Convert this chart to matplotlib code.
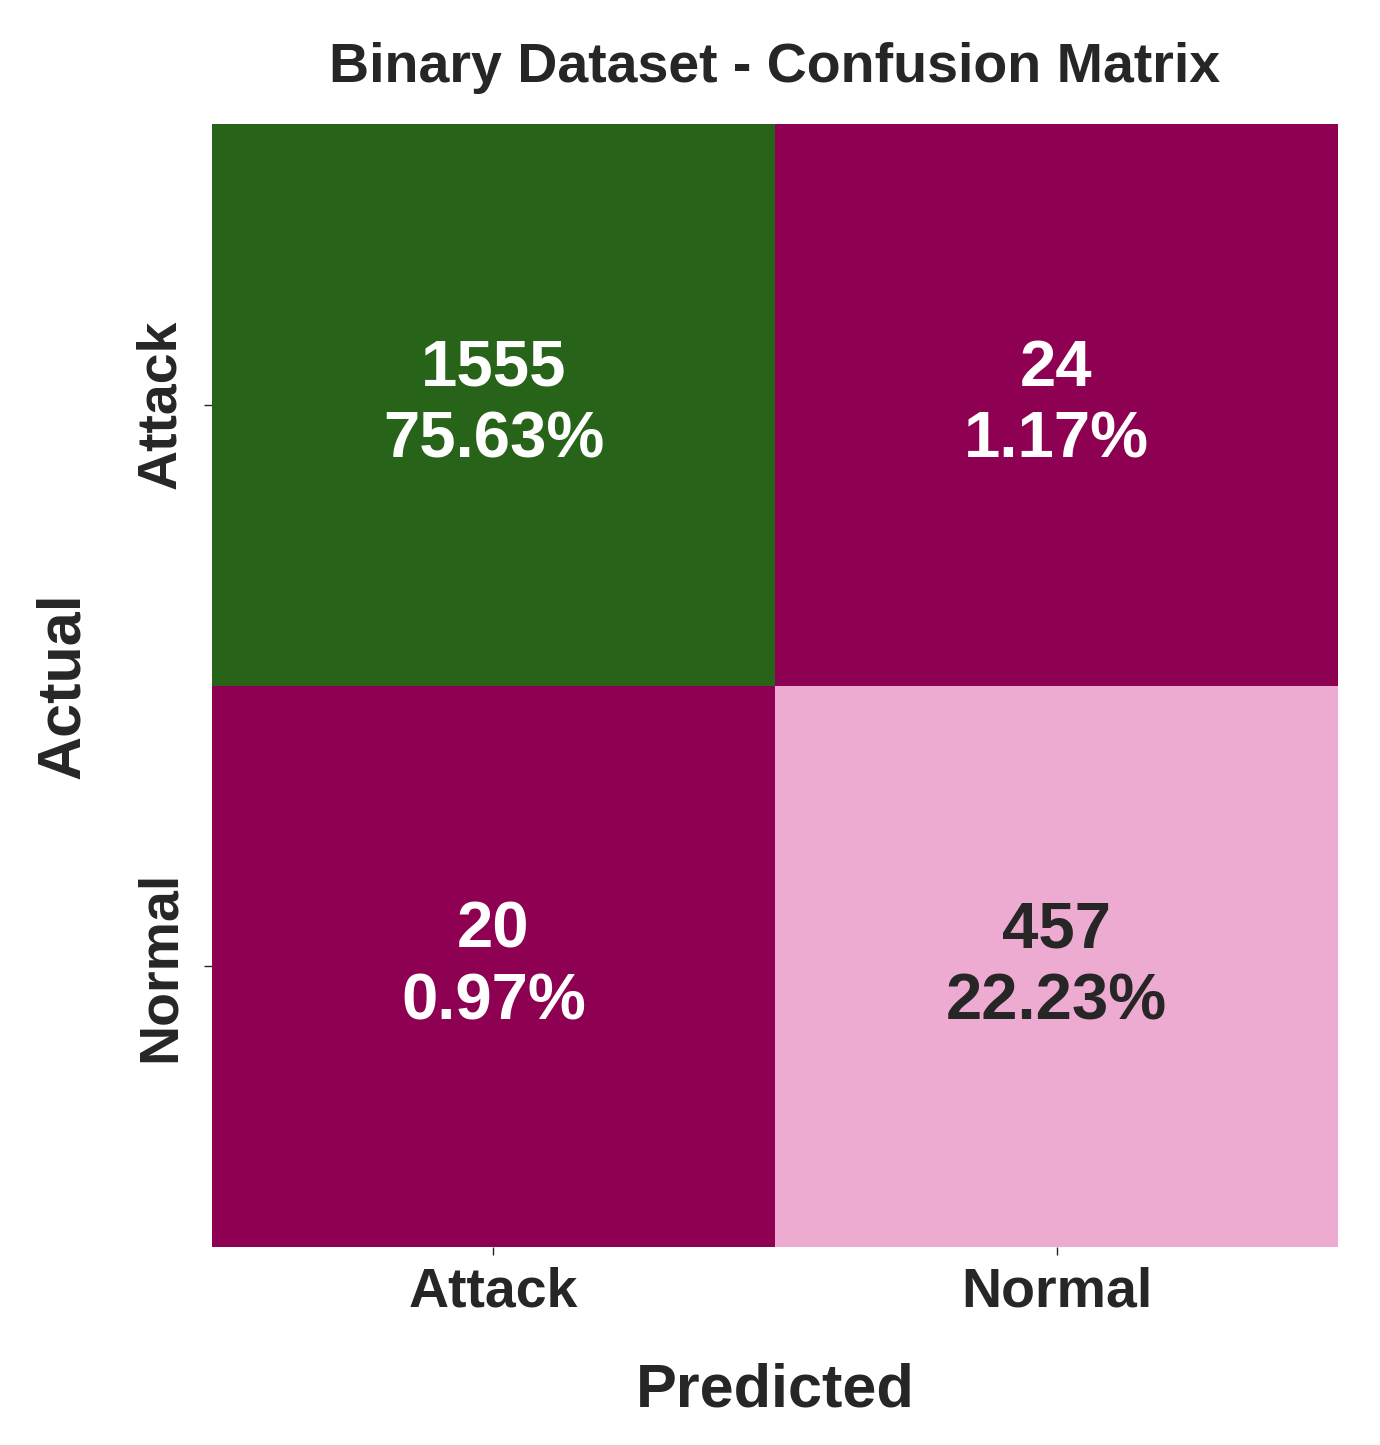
import numpy as np
import matplotlib.pyplot as plt
import seaborn as sns

labels = ['Attack', 'Normal']
counts = np.array([[1555, 24],
                   [20, 457]])

sns.set_style('ticks')
plt.rcParams['font.family'] = ['Liberation Sans', 'DejaVu Sans']
plt.rcParams['text.color'] = '#262626'
plt.rcParams['axes.labelcolor'] = '#262626'
plt.rcParams['xtick.color'] = '#262626'
plt.rcParams['ytick.color'] = '#262626'

total = counts.sum()
annot = np.array([[f'{c}\n{c / total:.2%}' for c in row] for row in counts])

fig = plt.figure(figsize=(13.8, 14.45), dpi=100)
ax = fig.add_axes([0.1536, 0.137, 0.816, 0.7772])

sns.heatmap(counts, annot=annot, fmt='', cmap='PiYG', cbar=False,
            xticklabels=labels, yticklabels=labels, ax=ax,
            annot_kws={'fontsize': 47, 'fontweight': 'bold', 'linespacing': 1.25})

ax.set_title('Binary Dataset - Confusion Matrix', fontsize=40, fontweight='bold', pad=30)
ax.set_xlabel('Predicted', fontsize=44, fontweight='bold', labelpad=32)
ax.set_ylabel('Actual', fontsize=44, fontweight='bold', labelpad=31)
ax.tick_params(axis='x', labelsize=40, length=6, width=1, pad=8)
ax.tick_params(axis='y', labelsize=40, length=6, width=1, pad=12)
for t in ax.get_xticklabels() + ax.get_yticklabels():
    t.set_fontweight('bold')
ax.set_yticklabels(labels, rotation=90, va='center')

fig.savefig('out.png', dpi=100)
